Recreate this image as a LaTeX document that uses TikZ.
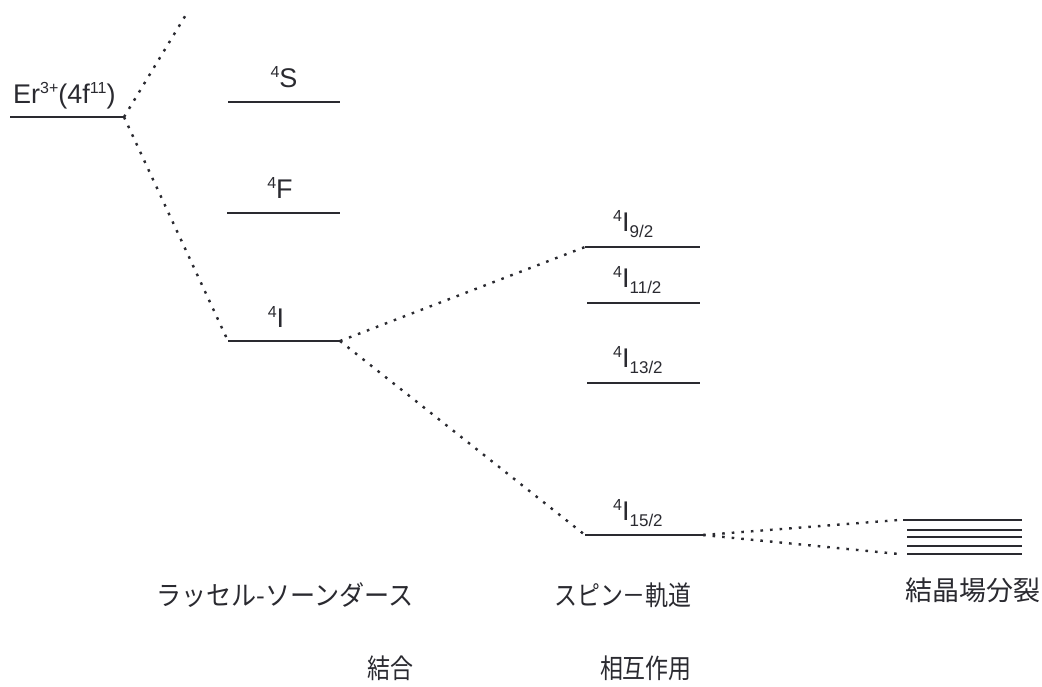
\documentclass[tikz,border=0pt]{standalone}
\usepackage{fontspec}
\usepackage{graphicx}
\setmainfont{Liberation Sans}
\newfontfamily\jp{Noto Sans CJK JP}
\definecolor{ink}{HTML}{2A2A30}
\newcommand{\sups}[1]{{\fontsize{16}{16}\selectfont\raisebox{10pt}{#1}}}
\newcommand{\lvl}[3]{\sups{#1}#2{\fontsize{17}{17}\selectfont\raisebox{-6pt}{#3}}}
\begin{document}
\begin{tikzpicture}[x=1pt,y=-1pt,
  level/.style={draw=ink,line width=1.6pt},
  dots/.style={draw=ink,line width=2.4pt,dash pattern=on 2.6pt off 7pt},
  lbl/.style={inner sep=0pt,anchor=base,text=ink,font=\fontsize{27}{27}\selectfont},
  jlbl/.style={inner sep=0pt,text=ink,anchor=east,font=\jp\fontsize{27}{27}\selectfont}]
\useasboundingbox (0,0) rectangle (1042,686);
% Er level
\coordinate (erL) at (10,117);
\coordinate (erR) at (124,117);
\draw[level] (erL) -- (erR);
\node[lbl,anchor=base west] (erlab) at (13,103) {Er\sups{3+}(4f\sups{11})};
\coordinate (up) at (187,13);
% LS terms
\coordinate (sL) at (228,102); \coordinate (sR) at (340,102);
\coordinate (fL) at (227,213); \coordinate (fR) at (340,213);
\coordinate (iL) at (228,341); \coordinate (iR) at (340,341);
\draw[level] (sL) -- (sR);
\draw[level] (fL) -- (fR);
\draw[level] (iL) -- (iR);
\node[lbl] (slab) at (284,87) {\lvl{4}{S}{}};
\node[lbl] (flab) at (280,198) {\lvl{4}{F}{}};
\node[lbl] (ilab) at (276,327) {\lvl{4}{I}{}};
% spin-orbit levels
\coordinate (a1) at (585,247); \coordinate (a2) at (700,247);
\coordinate (b1) at (587,303); \coordinate (b2) at (700,303);
\coordinate (c1) at (587,383); \coordinate (c2) at (700,383);
\coordinate (d1) at (585,535); \coordinate (d2) at (703,535);
\draw[level] (a1) -- (a2);
\draw[level] (b1) -- (b2);
\draw[level] (c1) -- (c2);
\draw[level] (d1) -- (d2);
\node[lbl,anchor=base west] (alab) at (613,231) {\lvl{4}{I}{9/2}};
\node[lbl,anchor=base west] (blab) at (613,287) {\lvl{4}{I}{11/2}};
\node[lbl,anchor=base west] (clab) at (613,367) {\lvl{4}{I}{13/2}};
\node[lbl,anchor=base west] (dlab) at (613,520) {\lvl{4}{I}{15/2}};
% crystal field
\coordinate (k1) at (903,520); \coordinate (k1r) at (1022,520);
\coordinate (k2) at (907,530); \coordinate (k2r) at (1022,530);
\coordinate (k3) at (907,537); \coordinate (k3r) at (1022,537);
\coordinate (k4) at (907,546); \coordinate (k4r) at (1022,546);
\coordinate (k5) at (907,554); \coordinate (k5r) at (1022,554);
\foreach \a/\b in {k1/k1r,k2/k2r,k3/k3r,k4/k4r,k5/k5r} \draw[level] (\a) -- (\b);
% dotted connectors
\draw[dots] (erR) -- (up);
\draw[dots] (erR) -- (iL);
\draw[dots] (iR) -- (a1);
\draw[dots] (iR) -- (d1);
\draw[dots] (d2) -- ([xshift=-4pt]k1);
\draw[dots] (d2) -- ([xshift=-8pt]k5);
% bottom labels
\node[jlbl] (ls1) at (414,595) {\scalebox{0.93}[1]{ラッセル-ソーンダース}};
\node[jlbl] (ls2) at (414,668) {\scalebox{0.85}[1]{結合}};
\node[jlbl] (so1) at (692,595) {\scalebox{0.85}[1]{スピン－軌道}};
\node[jlbl] (so2) at (692,668) {\scalebox{0.85}[1]{相互作用}};
\node[jlbl] (cf) at (1041,590) {結晶場分裂};
\end{tikzpicture}
\end{document}
